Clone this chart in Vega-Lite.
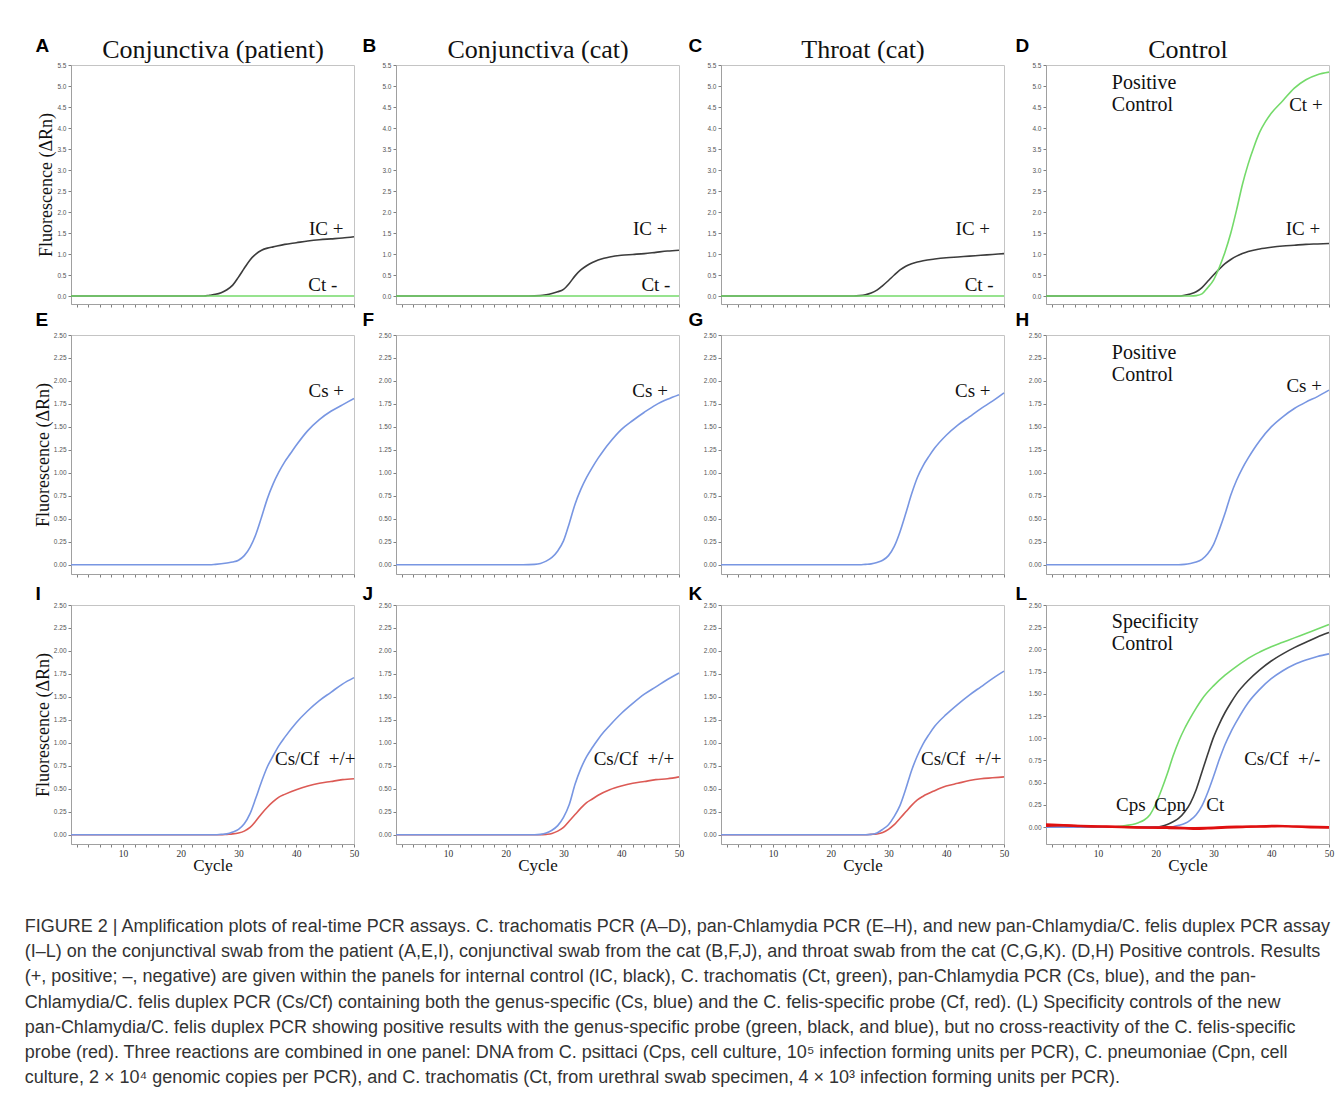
{
"$schema":"https://vega.github.io/schema/vega-lite/v6.json",
"background":"white",
"padding":{"left":24,"top":35,"right":0,"bottom":0},
"datasets":{
"curves":[
{"p":"A","s":"IC","c":1,"v":0},{"p":"A","s":"IC","c":24,"v":0},{"p":"A","s":"IC","c":25,"v":0.02},{"p":"A","s":"IC","c":26,"v":0.04},{"p":"A","s":"IC","c":27,"v":0.08},{"p":"A","s":"IC","c":28,"v":0.15},{"p":"A","s":"IC","c":29,"v":0.26},{"p":"A","s":"IC","c":30,"v":0.45},{"p":"A","s":"IC","c":31,"v":0.66},{"p":"A","s":"IC","c":32,"v":0.86},{"p":"A","s":"IC","c":33,"v":1.0},{"p":"A","s":"IC","c":34,"v":1.09},{"p":"A","s":"IC","c":35,"v":1.14},{"p":"A","s":"IC","c":36,"v":1.17},{"p":"A","s":"IC","c":38,"v":1.23},{"p":"A","s":"IC","c":40,"v":1.27},{"p":"A","s":"IC","c":42,"v":1.31},{"p":"A","s":"IC","c":44,"v":1.34},{"p":"A","s":"IC","c":46,"v":1.36},{"p":"A","s":"IC","c":48,"v":1.38},{"p":"A","s":"IC","c":50,"v":1.41},
{"p":"A","s":"Ct","c":1,"v":0},{"p":"A","s":"Ct","c":50,"v":0},
{"p":"B","s":"IC","c":1,"v":0},{"p":"B","s":"IC","c":24,"v":0},{"p":"B","s":"IC","c":26,"v":0.01},{"p":"B","s":"IC","c":27,"v":0.03},{"p":"B","s":"IC","c":28,"v":0.06},{"p":"B","s":"IC","c":29,"v":0.1},{"p":"B","s":"IC","c":30,"v":0.16},{"p":"B","s":"IC","c":31,"v":0.3},{"p":"B","s":"IC","c":32,"v":0.48},{"p":"B","s":"IC","c":33,"v":0.62},{"p":"B","s":"IC","c":34,"v":0.72},{"p":"B","s":"IC","c":35,"v":0.8},{"p":"B","s":"IC","c":36,"v":0.86},{"p":"B","s":"IC","c":37,"v":0.9},{"p":"B","s":"IC","c":38,"v":0.93},{"p":"B","s":"IC","c":40,"v":0.97},{"p":"B","s":"IC","c":42,"v":0.99},{"p":"B","s":"IC","c":44,"v":1.01},{"p":"B","s":"IC","c":46,"v":1.04},{"p":"B","s":"IC","c":48,"v":1.07},{"p":"B","s":"IC","c":50,"v":1.09},
{"p":"B","s":"Ct","c":1,"v":0},{"p":"B","s":"Ct","c":50,"v":0},
{"p":"C","s":"IC","c":1,"v":0},{"p":"C","s":"IC","c":24,"v":0},{"p":"C","s":"IC","c":25,"v":0.01},{"p":"C","s":"IC","c":26,"v":0.03},{"p":"C","s":"IC","c":27,"v":0.07},{"p":"C","s":"IC","c":28,"v":0.14},{"p":"C","s":"IC","c":29,"v":0.25},{"p":"C","s":"IC","c":30,"v":0.37},{"p":"C","s":"IC","c":31,"v":0.5},{"p":"C","s":"IC","c":32,"v":0.62},{"p":"C","s":"IC","c":33,"v":0.71},{"p":"C","s":"IC","c":34,"v":0.77},{"p":"C","s":"IC","c":35,"v":0.81},{"p":"C","s":"IC","c":36,"v":0.84},{"p":"C","s":"IC","c":38,"v":0.88},{"p":"C","s":"IC","c":40,"v":0.91},{"p":"C","s":"IC","c":42,"v":0.93},{"p":"C","s":"IC","c":44,"v":0.95},{"p":"C","s":"IC","c":46,"v":0.97},{"p":"C","s":"IC","c":48,"v":0.99},{"p":"C","s":"IC","c":50,"v":1.01},
{"p":"C","s":"Ct","c":1,"v":0},{"p":"C","s":"Ct","c":50,"v":0},
{"p":"D","s":"IC","c":1,"v":0},{"p":"D","s":"IC","c":24,"v":0},{"p":"D","s":"IC","c":25,"v":0.02},{"p":"D","s":"IC","c":26,"v":0.05},{"p":"D","s":"IC","c":27,"v":0.1},{"p":"D","s":"IC","c":28,"v":0.2},{"p":"D","s":"IC","c":29,"v":0.35},{"p":"D","s":"IC","c":30,"v":0.5},{"p":"D","s":"IC","c":31,"v":0.64},{"p":"D","s":"IC","c":32,"v":0.77},{"p":"D","s":"IC","c":33,"v":0.87},{"p":"D","s":"IC","c":34,"v":0.95},{"p":"D","s":"IC","c":35,"v":1.01},{"p":"D","s":"IC","c":36,"v":1.06},{"p":"D","s":"IC","c":38,"v":1.12},{"p":"D","s":"IC","c":40,"v":1.16},{"p":"D","s":"IC","c":42,"v":1.19},{"p":"D","s":"IC","c":44,"v":1.21},{"p":"D","s":"IC","c":46,"v":1.23},{"p":"D","s":"IC","c":48,"v":1.24},{"p":"D","s":"IC","c":50,"v":1.25},
{"p":"D","s":"Ct","c":1,"v":0},{"p":"D","s":"Ct","c":26,"v":0},{"p":"D","s":"Ct","c":27,"v":0.01},{"p":"D","s":"Ct","c":28,"v":0.05},{"p":"D","s":"Ct","c":29,"v":0.2},{"p":"D","s":"Ct","c":30,"v":0.38},{"p":"D","s":"Ct","c":31,"v":0.68},{"p":"D","s":"Ct","c":32,"v":1.05},{"p":"D","s":"Ct","c":33,"v":1.5},{"p":"D","s":"Ct","c":34,"v":2.05},{"p":"D","s":"Ct","c":35,"v":2.65},{"p":"D","s":"Ct","c":36,"v":3.14},{"p":"D","s":"Ct","c":37,"v":3.55},{"p":"D","s":"Ct","c":38,"v":3.9},{"p":"D","s":"Ct","c":39,"v":4.15},{"p":"D","s":"Ct","c":40,"v":4.35},{"p":"D","s":"Ct","c":42,"v":4.65},{"p":"D","s":"Ct","c":44,"v":4.95},{"p":"D","s":"Ct","c":46,"v":5.15},{"p":"D","s":"Ct","c":48,"v":5.27},{"p":"D","s":"Ct","c":50,"v":5.33},
{"p":"E","s":"Cs","c":1,"v":0},{"p":"E","s":"Cs","c":25,"v":0},{"p":"E","s":"Cs","c":26,"v":0.005},{"p":"E","s":"Cs","c":28,"v":0.02},{"p":"E","s":"Cs","c":29,"v":0.03},{"p":"E","s":"Cs","c":30,"v":0.05},{"p":"E","s":"Cs","c":31,"v":0.1},{"p":"E","s":"Cs","c":32,"v":0.19},{"p":"E","s":"Cs","c":33,"v":0.33},{"p":"E","s":"Cs","c":34,"v":0.52},{"p":"E","s":"Cs","c":35,"v":0.72},{"p":"E","s":"Cs","c":36,"v":0.88},{"p":"E","s":"Cs","c":37,"v":1.01},{"p":"E","s":"Cs","c":38,"v":1.12},{"p":"E","s":"Cs","c":39,"v":1.21},{"p":"E","s":"Cs","c":40,"v":1.3},{"p":"E","s":"Cs","c":42,"v":1.46},{"p":"E","s":"Cs","c":44,"v":1.58},{"p":"E","s":"Cs","c":46,"v":1.67},{"p":"E","s":"Cs","c":48,"v":1.74},{"p":"E","s":"Cs","c":50,"v":1.81},
{"p":"F","s":"Cs","c":1,"v":0},{"p":"F","s":"Cs","c":23,"v":0},{"p":"F","s":"Cs","c":25,"v":0.005},{"p":"F","s":"Cs","c":26,"v":0.015},{"p":"F","s":"Cs","c":27,"v":0.04},{"p":"F","s":"Cs","c":28,"v":0.08},{"p":"F","s":"Cs","c":29,"v":0.15},{"p":"F","s":"Cs","c":30,"v":0.26},{"p":"F","s":"Cs","c":31,"v":0.45},{"p":"F","s":"Cs","c":32,"v":0.66},{"p":"F","s":"Cs","c":33,"v":0.82},{"p":"F","s":"Cs","c":34,"v":0.95},{"p":"F","s":"Cs","c":35,"v":1.06},{"p":"F","s":"Cs","c":36,"v":1.16},{"p":"F","s":"Cs","c":37,"v":1.25},{"p":"F","s":"Cs","c":38,"v":1.33},{"p":"F","s":"Cs","c":40,"v":1.47},{"p":"F","s":"Cs","c":42,"v":1.57},{"p":"F","s":"Cs","c":44,"v":1.66},{"p":"F","s":"Cs","c":46,"v":1.74},{"p":"F","s":"Cs","c":48,"v":1.8},{"p":"F","s":"Cs","c":50,"v":1.85},
{"p":"G","s":"Cs","c":1,"v":0},{"p":"G","s":"Cs","c":25,"v":0},{"p":"G","s":"Cs","c":26,"v":0.005},{"p":"G","s":"Cs","c":27,"v":0.01},{"p":"G","s":"Cs","c":28,"v":0.025},{"p":"G","s":"Cs","c":29,"v":0.05},{"p":"G","s":"Cs","c":30,"v":0.1},{"p":"G","s":"Cs","c":31,"v":0.2},{"p":"G","s":"Cs","c":32,"v":0.36},{"p":"G","s":"Cs","c":33,"v":0.56},{"p":"G","s":"Cs","c":34,"v":0.77},{"p":"G","s":"Cs","c":35,"v":0.95},{"p":"G","s":"Cs","c":36,"v":1.08},{"p":"G","s":"Cs","c":37,"v":1.18},{"p":"G","s":"Cs","c":38,"v":1.27},{"p":"G","s":"Cs","c":40,"v":1.41},{"p":"G","s":"Cs","c":42,"v":1.52},{"p":"G","s":"Cs","c":44,"v":1.61},{"p":"G","s":"Cs","c":46,"v":1.7},{"p":"G","s":"Cs","c":48,"v":1.78},{"p":"G","s":"Cs","c":50,"v":1.87},
{"p":"H","s":"Cs","c":1,"v":0},{"p":"H","s":"Cs","c":24,"v":0},{"p":"H","s":"Cs","c":25,"v":0.005},{"p":"H","s":"Cs","c":26,"v":0.015},{"p":"H","s":"Cs","c":27,"v":0.03},{"p":"H","s":"Cs","c":28,"v":0.06},{"p":"H","s":"Cs","c":29,"v":0.12},{"p":"H","s":"Cs","c":30,"v":0.22},{"p":"H","s":"Cs","c":31,"v":0.38},{"p":"H","s":"Cs","c":32,"v":0.56},{"p":"H","s":"Cs","c":33,"v":0.76},{"p":"H","s":"Cs","c":34,"v":0.92},{"p":"H","s":"Cs","c":35,"v":1.05},{"p":"H","s":"Cs","c":36,"v":1.16},{"p":"H","s":"Cs","c":37,"v":1.26},{"p":"H","s":"Cs","c":38,"v":1.35},{"p":"H","s":"Cs","c":40,"v":1.5},{"p":"H","s":"Cs","c":42,"v":1.61},{"p":"H","s":"Cs","c":44,"v":1.7},{"p":"H","s":"Cs","c":46,"v":1.77},{"p":"H","s":"Cs","c":48,"v":1.83},{"p":"H","s":"Cs","c":50,"v":1.9},
{"p":"I","s":"Cf","c":1,"v":0},{"p":"I","s":"Cf","c":27,"v":0},{"p":"I","s":"Cf","c":28,"v":0.005},{"p":"I","s":"Cf","c":29,"v":0.01},{"p":"I","s":"Cf","c":30,"v":0.02},{"p":"I","s":"Cf","c":31,"v":0.04},{"p":"I","s":"Cf","c":32,"v":0.08},{"p":"I","s":"Cf","c":33,"v":0.15},{"p":"I","s":"Cf","c":34,"v":0.23},{"p":"I","s":"Cf","c":35,"v":0.3},{"p":"I","s":"Cf","c":36,"v":0.36},{"p":"I","s":"Cf","c":37,"v":0.41},{"p":"I","s":"Cf","c":38,"v":0.44},{"p":"I","s":"Cf","c":40,"v":0.49},{"p":"I","s":"Cf","c":42,"v":0.53},{"p":"I","s":"Cf","c":44,"v":0.56},{"p":"I","s":"Cf","c":46,"v":0.58},{"p":"I","s":"Cf","c":48,"v":0.6},{"p":"I","s":"Cf","c":50,"v":0.61},
{"p":"I","s":"Cs","c":1,"v":0},{"p":"I","s":"Cs","c":26,"v":0},{"p":"I","s":"Cs","c":27,"v":0.005},{"p":"I","s":"Cs","c":28,"v":0.01},{"p":"I","s":"Cs","c":29,"v":0.03},{"p":"I","s":"Cs","c":30,"v":0.06},{"p":"I","s":"Cs","c":31,"v":0.12},{"p":"I","s":"Cs","c":32,"v":0.23},{"p":"I","s":"Cs","c":33,"v":0.4},{"p":"I","s":"Cs","c":34,"v":0.58},{"p":"I","s":"Cs","c":35,"v":0.74},{"p":"I","s":"Cs","c":36,"v":0.86},{"p":"I","s":"Cs","c":37,"v":0.97},{"p":"I","s":"Cs","c":38,"v":1.06},{"p":"I","s":"Cs","c":40,"v":1.22},{"p":"I","s":"Cs","c":42,"v":1.35},{"p":"I","s":"Cs","c":44,"v":1.46},{"p":"I","s":"Cs","c":46,"v":1.55},{"p":"I","s":"Cs","c":48,"v":1.64},{"p":"I","s":"Cs","c":50,"v":1.71},
{"p":"J","s":"Cf","c":1,"v":0},{"p":"J","s":"Cf","c":26,"v":0},{"p":"J","s":"Cf","c":27,"v":0.005},{"p":"J","s":"Cf","c":28,"v":0.015},{"p":"J","s":"Cf","c":29,"v":0.04},{"p":"J","s":"Cf","c":30,"v":0.08},{"p":"J","s":"Cf","c":31,"v":0.15},{"p":"J","s":"Cf","c":32,"v":0.22},{"p":"J","s":"Cf","c":33,"v":0.29},{"p":"J","s":"Cf","c":34,"v":0.35},{"p":"J","s":"Cf","c":35,"v":0.39},{"p":"J","s":"Cf","c":36,"v":0.43},{"p":"J","s":"Cf","c":38,"v":0.49},{"p":"J","s":"Cf","c":40,"v":0.53},{"p":"J","s":"Cf","c":42,"v":0.56},{"p":"J","s":"Cf","c":44,"v":0.58},{"p":"J","s":"Cf","c":46,"v":0.6},{"p":"J","s":"Cf","c":48,"v":0.61},{"p":"J","s":"Cf","c":50,"v":0.63},
{"p":"J","s":"Cs","c":1,"v":0},{"p":"J","s":"Cs","c":25,"v":0},{"p":"J","s":"Cs","c":26,"v":0.005},{"p":"J","s":"Cs","c":27,"v":0.02},{"p":"J","s":"Cs","c":28,"v":0.05},{"p":"J","s":"Cs","c":29,"v":0.1},{"p":"J","s":"Cs","c":30,"v":0.19},{"p":"J","s":"Cs","c":31,"v":0.33},{"p":"J","s":"Cs","c":32,"v":0.55},{"p":"J","s":"Cs","c":33,"v":0.72},{"p":"J","s":"Cs","c":34,"v":0.85},{"p":"J","s":"Cs","c":35,"v":0.95},{"p":"J","s":"Cs","c":36,"v":1.04},{"p":"J","s":"Cs","c":37,"v":1.12},{"p":"J","s":"Cs","c":38,"v":1.19},{"p":"J","s":"Cs","c":40,"v":1.32},{"p":"J","s":"Cs","c":42,"v":1.43},{"p":"J","s":"Cs","c":44,"v":1.53},{"p":"J","s":"Cs","c":46,"v":1.61},{"p":"J","s":"Cs","c":48,"v":1.69},{"p":"J","s":"Cs","c":50,"v":1.76},
{"p":"K","s":"Cf","c":1,"v":0},{"p":"K","s":"Cf","c":26,"v":0},{"p":"K","s":"Cf","c":27,"v":0.005},{"p":"K","s":"Cf","c":28,"v":0.01},{"p":"K","s":"Cf","c":29,"v":0.025},{"p":"K","s":"Cf","c":30,"v":0.06},{"p":"K","s":"Cf","c":31,"v":0.11},{"p":"K","s":"Cf","c":32,"v":0.18},{"p":"K","s":"Cf","c":33,"v":0.25},{"p":"K","s":"Cf","c":34,"v":0.32},{"p":"K","s":"Cf","c":35,"v":0.38},{"p":"K","s":"Cf","c":36,"v":0.42},{"p":"K","s":"Cf","c":38,"v":0.48},{"p":"K","s":"Cf","c":40,"v":0.53},{"p":"K","s":"Cf","c":42,"v":0.56},{"p":"K","s":"Cf","c":44,"v":0.59},{"p":"K","s":"Cf","c":46,"v":0.61},{"p":"K","s":"Cf","c":48,"v":0.62},{"p":"K","s":"Cf","c":50,"v":0.63},
{"p":"K","s":"Cs","c":1,"v":0},{"p":"K","s":"Cs","c":26,"v":0},{"p":"K","s":"Cs","c":27,"v":0.005},{"p":"K","s":"Cs","c":28,"v":0.02},{"p":"K","s":"Cs","c":29,"v":0.06},{"p":"K","s":"Cs","c":30,"v":0.11},{"p":"K","s":"Cs","c":31,"v":0.2},{"p":"K","s":"Cs","c":32,"v":0.32},{"p":"K","s":"Cs","c":33,"v":0.5},{"p":"K","s":"Cs","c":34,"v":0.7},{"p":"K","s":"Cs","c":35,"v":0.86},{"p":"K","s":"Cs","c":36,"v":0.99},{"p":"K","s":"Cs","c":37,"v":1.09},{"p":"K","s":"Cs","c":38,"v":1.18},{"p":"K","s":"Cs","c":40,"v":1.31},{"p":"K","s":"Cs","c":42,"v":1.42},{"p":"K","s":"Cs","c":44,"v":1.52},{"p":"K","s":"Cs","c":46,"v":1.61},{"p":"K","s":"Cs","c":48,"v":1.7},{"p":"K","s":"Cs","c":50,"v":1.78},
{"p":"L","s":"Cps","c":1,"v":0},{"p":"L","s":"Cps","c":10,"v":0},{"p":"L","s":"Cps","c":13,"v":0.005},{"p":"L","s":"Cps","c":15,"v":0.02},{"p":"L","s":"Cps","c":16,"v":0.03},{"p":"L","s":"Cps","c":17,"v":0.05},{"p":"L","s":"Cps","c":18,"v":0.08},{"p":"L","s":"Cps","c":19,"v":0.14},{"p":"L","s":"Cps","c":20,"v":0.26},{"p":"L","s":"Cps","c":21,"v":0.42},{"p":"L","s":"Cps","c":22,"v":0.6},{"p":"L","s":"Cps","c":23,"v":0.8},{"p":"L","s":"Cps","c":24,"v":0.97},{"p":"L","s":"Cps","c":25,"v":1.11},{"p":"L","s":"Cps","c":26,"v":1.23},{"p":"L","s":"Cps","c":27,"v":1.34},{"p":"L","s":"Cps","c":28,"v":1.44},{"p":"L","s":"Cps","c":30,"v":1.59},{"p":"L","s":"Cps","c":32,"v":1.71},{"p":"L","s":"Cps","c":34,"v":1.81},{"p":"L","s":"Cps","c":36,"v":1.9},{"p":"L","s":"Cps","c":38,"v":1.97},{"p":"L","s":"Cps","c":40,"v":2.03},{"p":"L","s":"Cps","c":42,"v":2.08},{"p":"L","s":"Cps","c":44,"v":2.13},{"p":"L","s":"Cps","c":46,"v":2.18},{"p":"L","s":"Cps","c":48,"v":2.23},{"p":"L","s":"Cps","c":50,"v":2.28},
{"p":"L","s":"Cpn","c":1,"v":0},{"p":"L","s":"Cpn","c":20,"v":0},{"p":"L","s":"Cpn","c":21,"v":0.01},{"p":"L","s":"Cpn","c":22,"v":0.03},{"p":"L","s":"Cpn","c":23,"v":0.06},{"p":"L","s":"Cpn","c":24,"v":0.1},{"p":"L","s":"Cpn","c":25,"v":0.17},{"p":"L","s":"Cpn","c":26,"v":0.27},{"p":"L","s":"Cpn","c":27,"v":0.42},{"p":"L","s":"Cpn","c":28,"v":0.62},{"p":"L","s":"Cpn","c":29,"v":0.82},{"p":"L","s":"Cpn","c":30,"v":1.01},{"p":"L","s":"Cpn","c":31,"v":1.16},{"p":"L","s":"Cpn","c":32,"v":1.29},{"p":"L","s":"Cpn","c":33,"v":1.4},{"p":"L","s":"Cpn","c":34,"v":1.5},{"p":"L","s":"Cpn","c":36,"v":1.65},{"p":"L","s":"Cpn","c":38,"v":1.77},{"p":"L","s":"Cpn","c":40,"v":1.87},{"p":"L","s":"Cpn","c":42,"v":1.95},{"p":"L","s":"Cpn","c":44,"v":2.02},{"p":"L","s":"Cpn","c":46,"v":2.08},{"p":"L","s":"Cpn","c":48,"v":2.14},{"p":"L","s":"Cpn","c":50,"v":2.19},
{"p":"L","s":"CtL","c":1,"v":0},{"p":"L","s":"CtL","c":22,"v":0},{"p":"L","s":"CtL","c":23,"v":0.005},{"p":"L","s":"CtL","c":24,"v":0.02},{"p":"L","s":"CtL","c":25,"v":0.04},{"p":"L","s":"CtL","c":26,"v":0.08},{"p":"L","s":"CtL","c":27,"v":0.14},{"p":"L","s":"CtL","c":28,"v":0.24},{"p":"L","s":"CtL","c":29,"v":0.39},{"p":"L","s":"CtL","c":30,"v":0.57},{"p":"L","s":"CtL","c":31,"v":0.76},{"p":"L","s":"CtL","c":32,"v":0.93},{"p":"L","s":"CtL","c":33,"v":1.07},{"p":"L","s":"CtL","c":34,"v":1.19},{"p":"L","s":"CtL","c":36,"v":1.4},{"p":"L","s":"CtL","c":38,"v":1.55},{"p":"L","s":"CtL","c":40,"v":1.67},{"p":"L","s":"CtL","c":42,"v":1.76},{"p":"L","s":"CtL","c":44,"v":1.83},{"p":"L","s":"CtL","c":46,"v":1.88},{"p":"L","s":"CtL","c":48,"v":1.92},{"p":"L","s":"CtL","c":50,"v":1.95},
{"p":"L","s":"CfL","r":"a","c":1,"v":0.03},{"p":"L","s":"CfL","r":"a","c":3,"v":0.025},{"p":"L","s":"CfL","r":"a","c":5,"v":0.02},{"p":"L","s":"CfL","r":"a","c":7,"v":0.015},{"p":"L","s":"CfL","r":"a","c":10,"v":0.01},{"p":"L","s":"CfL","r":"a","c":13,"v":0.005},{"p":"L","s":"CfL","r":"a","c":16,"v":0},{"p":"L","s":"CfL","r":"a","c":19,"v":-0.005},{"p":"L","s":"CfL","r":"a","c":22,"v":-0.01},{"p":"L","s":"CfL","r":"a","c":25,"v":-0.015},{"p":"L","s":"CfL","r":"a","c":27,"v":-0.02},{"p":"L","s":"CfL","r":"a","c":29,"v":-0.015},{"p":"L","s":"CfL","r":"a","c":32,"v":-0.005},{"p":"L","s":"CfL","r":"a","c":35,"v":0},{"p":"L","s":"CfL","r":"a","c":38,"v":0.01},{"p":"L","s":"CfL","r":"a","c":41,"v":0.015},{"p":"L","s":"CfL","r":"a","c":43,"v":0.01},{"p":"L","s":"CfL","r":"a","c":46,"v":0},{"p":"L","s":"CfL","r":"a","c":50,"v":-0.005},
{"p":"L","s":"CfL","r":"b","c":1,"v":0.015},{"p":"L","s":"CfL","r":"b","c":4,"v":0.02},{"p":"L","s":"CfL","r":"b","c":7,"v":0.01},{"p":"L","s":"CfL","r":"b","c":10,"v":0.005},{"p":"L","s":"CfL","r":"b","c":14,"v":0},{"p":"L","s":"CfL","r":"b","c":18,"v":-0.005},{"p":"L","s":"CfL","r":"b","c":22,"v":0},{"p":"L","s":"CfL","r":"b","c":26,"v":-0.01},{"p":"L","s":"CfL","r":"b","c":30,"v":-0.005},{"p":"L","s":"CfL","r":"b","c":34,"v":0.005},{"p":"L","s":"CfL","r":"b","c":38,"v":0.005},{"p":"L","s":"CfL","r":"b","c":42,"v":0.01},{"p":"L","s":"CfL","r":"b","c":46,"v":0.005},{"p":"L","s":"CfL","r":"b","c":50,"v":0}
],
"labels":[
{"p":"A","k":"s","t":"IC +","c":45.2,"v":1.6},{"p":"A","k":"s","t":"Ct -","c":44.6,"v":0.26},
{"p":"B","k":"s","t":"IC +","c":45.0,"v":1.6},{"p":"B","k":"s","t":"Ct -","c":46.0,"v":0.26},
{"p":"C","k":"s","t":"IC +","c":44.6,"v":1.6},{"p":"C","k":"s","t":"Ct -","c":45.7,"v":0.26},
{"p":"D","k":"s","t":"Ct +","c":46.0,"v":4.55},{"p":"D","k":"s","t":"IC +","c":45.5,"v":1.6},{"p":"D","k":"b","t":"Positive","c":12.4,"v":5.07},{"p":"D","k":"b","t":"Control","c":12.4,"v":4.55},
{"p":"E","k":"s","t":"Cs +","c":45.2,"v":1.89},{"p":"F","k":"s","t":"Cs +","c":45.0,"v":1.89},{"p":"G","k":"s","t":"Cs +","c":44.6,"v":1.89},
{"p":"H","k":"s","t":"Cs +","c":45.7,"v":1.95},{"p":"H","k":"b","t":"Positive","c":12.4,"v":2.3},{"p":"H","k":"b","t":"Control","c":12.4,"v":2.07},
{"p":"I","k":"s","t":"Cs/Cf\u00a0 +/+","c":43.3,"v":0.83},{"p":"J","k":"s","t":"Cs/Cf\u00a0 +/+","c":42.2,"v":0.83},{"p":"K","k":"s","t":"Cs/Cf\u00a0 +/+","c":42.6,"v":0.83},
{"p":"L","k":"s","t":"Cs/Cf\u00a0 +/-","c":41.9,"v":0.77},{"p":"L","k":"s","t":"Cps","c":15.7,"v":0.25},{"p":"L","k":"s","t":"Cpn","c":22.5,"v":0.25},{"p":"L","k":"s","t":"Ct","c":30.3,"v":0.25},{"p":"L","k":"b","t":"Specificity","c":12.4,"v":2.31},{"p":"L","k":"b","t":"Control","c":12.4,"v":2.06}
]
},
"title":{"text":[
"FIGURE 2 | Amplification plots of real-time PCR assays. C. trachomatis PCR (A–D), pan-Chlamydia PCR (E–H), and new pan-Chlamydia/C. felis duplex PCR assay",
"(I–L) on the conjunctival swab from the patient (A,E,I), conjunctival swab from the cat (B,F,J), and throat swab from the cat (C,G,K). (D,H) Positive controls. Results",
"(+, positive; –, negative) are given within the panels for internal control (IC, black), C. trachomatis (Ct, green), pan-Chlamydia PCR (Cs, blue), and the pan-",
"Chlamydia/C. felis duplex PCR (Cs/Cf) containing both the genus-specific (Cs, blue) and the C. felis-specific probe (Cf, red). (L) Specificity controls of the new",
"pan-Chlamydia/C. felis duplex PCR showing positive results with the genus-specific probe (green, black, and blue), but no cross-reactivity of the C. felis-specific",
"probe (red). Three reactions are combined in one panel: DNA from C. psittaci (Cps, cell culture, 10⁵ infection forming units per PCR), C. pneumoniae (Cpn, cell",
"culture, 2 × 10⁴ genomic copies per PCR), and C. trachomatis (Ct, from urethral swab specimen, 4 × 10³ infection forming units per PCR)."],
"orient":"bottom","anchor":"start","frame":"bounds","font":"Liberation Sans","fontSize":18,"fontWeight":"normal","color":"#333","lineHeight":25.2,"offset":44,"dx":-9,"baseline":"top"},
"columns":4,
"spacing":{"row":31,"column":42},
"bounds":"flush",
"concat":[
{"width":283,"height":239,"resolve":{"axis":{"x":"independent","y":"independent"}},"layer":[
 {"data":{"name":"curves"},"transform":[{"filter":"datum.p==='A'"}],"mark":{"type":"line","interpolate":"monotone","strokeWidth":1.6},
  "encoding":{"x":{"field":"c","type":"quantitative","scale":{"domain":[1,50],"nice":false,"zero":false},"axis":{"values":[2,4,6,8,10,12,14,16,18,20,22,24,26,28,30,32,34,36,38,40,42,44,46,48,50],"labels":false,"title":null}},
   "y":{"field":"v","type":"quantitative","scale":{"domain":[-0.19,5.5],"nice":false,"zero":false},"axis":{"values":[0,0.5,1,1.5,2,2.5,3,3.5,4,4.5,5,5.5],"format":".1f","title":"Fluorescence (ΔRn)"}},
   "color":{"field":"s","type":"nominal","scale":{"domain":["IC","Ct","Cs","Cf","Cps","Cpn","CtL"],"range":["#3c3c3c","#74da6a","#7896e2","#dc5a55","#74da6a","#3c3c3c","#7896e2"]},"legend":null}}},
 {"data":{"name":"labels"},"transform":[{"filter":"datum.p==='A' && datum.k==='s'"}],"mark":{"type":"text","font":"Liberation Serif","fontSize":19,"color":"#111"},
  "encoding":{"x":{"field":"c","type":"quantitative","axis":{"orient":"top","labels":false,"ticks":false,"domain":false,"title":"Conjunctiva (patient)","titleX":141.5,"titleY":-8,"titleAlign":"center","titleBaseline":"alphabetic","titleFont":"Liberation Serif","titleFontSize":26,"titleColor":"#111"}},
   "y":{"field":"v","type":"quantitative","axis":{"orient":"right","labels":false,"ticks":false,"domain":false,"title":"A","titleX":-319,"titleY":-14,"titleAngle":0,"titleAlign":"left","titleBaseline":"alphabetic","titleFont":"Liberation Sans","titleFontWeight":"bold","titleFontSize":19,"titleColor":"#000"}},
   "text":{"field":"t"}}}
]},
{"width":283,"height":239,"resolve":{"axis":{"x":"independent","y":"independent"}},"layer":[
 {"data":{"name":"curves"},"transform":[{"filter":"datum.p==='B'"}],"mark":{"type":"line","interpolate":"monotone","strokeWidth":1.6},
  "encoding":{"x":{"field":"c","type":"quantitative","scale":{"domain":[1,50],"nice":false,"zero":false},"axis":{"values":[2,4,6,8,10,12,14,16,18,20,22,24,26,28,30,32,34,36,38,40,42,44,46,48,50],"labels":false,"title":null}},
   "y":{"field":"v","type":"quantitative","scale":{"domain":[-0.19,5.5],"nice":false,"zero":false},"axis":{"values":[0,0.5,1,1.5,2,2.5,3,3.5,4,4.5,5,5.5],"format":".1f","title":null}},
   "color":{"field":"s","type":"nominal","legend":null}}},
 {"data":{"name":"labels"},"transform":[{"filter":"datum.p==='B' && datum.k==='s'"}],"mark":{"type":"text","font":"Liberation Serif","fontSize":19,"color":"#111"},
  "encoding":{"x":{"field":"c","type":"quantitative","axis":{"orient":"top","labels":false,"ticks":false,"domain":false,"title":"Conjunctiva (cat)","titleX":141.5,"titleY":-8,"titleAlign":"center","titleBaseline":"alphabetic","titleFont":"Liberation Serif","titleFontSize":26,"titleColor":"#111"}},
   "y":{"field":"v","type":"quantitative","axis":{"orient":"right","labels":false,"ticks":false,"domain":false,"title":"B","titleX":-317,"titleY":-14,"titleAngle":0,"titleAlign":"left","titleBaseline":"alphabetic","titleFont":"Liberation Sans","titleFontWeight":"bold","titleFontSize":19,"titleColor":"#000"}},
   "text":{"field":"t"}}}
]},
{"width":283,"height":239,"resolve":{"axis":{"x":"independent","y":"independent"}},"layer":[
 {"data":{"name":"curves"},"transform":[{"filter":"datum.p==='C'"}],"mark":{"type":"line","interpolate":"monotone","strokeWidth":1.6},
  "encoding":{"x":{"field":"c","type":"quantitative","scale":{"domain":[1,50],"nice":false,"zero":false},"axis":{"values":[2,4,6,8,10,12,14,16,18,20,22,24,26,28,30,32,34,36,38,40,42,44,46,48,50],"labels":false,"title":null}},
   "y":{"field":"v","type":"quantitative","scale":{"domain":[-0.19,5.5],"nice":false,"zero":false},"axis":{"values":[0,0.5,1,1.5,2,2.5,3,3.5,4,4.5,5,5.5],"format":".1f","title":null}},
   "color":{"field":"s","type":"nominal","legend":null}}},
 {"data":{"name":"labels"},"transform":[{"filter":"datum.p==='C' && datum.k==='s'"}],"mark":{"type":"text","font":"Liberation Serif","fontSize":19,"color":"#111"},
  "encoding":{"x":{"field":"c","type":"quantitative","axis":{"orient":"top","labels":false,"ticks":false,"domain":false,"title":"Throat (cat)","titleX":141.5,"titleY":-8,"titleAlign":"center","titleBaseline":"alphabetic","titleFont":"Liberation Serif","titleFontSize":26,"titleColor":"#111"}},
   "y":{"field":"v","type":"quantitative","axis":{"orient":"right","labels":false,"ticks":false,"domain":false,"title":"C","titleX":-316,"titleY":-14,"titleAngle":0,"titleAlign":"left","titleBaseline":"alphabetic","titleFont":"Liberation Sans","titleFontWeight":"bold","titleFontSize":19,"titleColor":"#000"}},
   "text":{"field":"t"}}}
]},
{"width":283,"height":239,"resolve":{"axis":{"x":"independent","y":"independent"}},"layer":[
 {"data":{"name":"curves"},"transform":[{"filter":"datum.p==='D'"}],"mark":{"type":"line","interpolate":"monotone","strokeWidth":1.6},
  "encoding":{"x":{"field":"c","type":"quantitative","scale":{"domain":[1,50],"nice":false,"zero":false},"axis":{"values":[2,4,6,8,10,12,14,16,18,20,22,24,26,28,30,32,34,36,38,40,42,44,46,48,50],"labels":false,"title":null}},
   "y":{"field":"v","type":"quantitative","scale":{"domain":[-0.19,5.5],"nice":false,"zero":false},"axis":{"values":[0,0.5,1,1.5,2,2.5,3,3.5,4,4.5,5,5.5],"format":".1f","title":null}},
   "color":{"field":"s","type":"nominal","legend":null}}},
 {"data":{"name":"labels"},"transform":[{"filter":"datum.p==='D' && datum.k==='s'"}],"mark":{"type":"text","font":"Liberation Serif","fontSize":19,"color":"#111"},
  "encoding":{"x":{"field":"c","type":"quantitative","axis":{"orient":"top","labels":false,"ticks":false,"domain":false,"title":"Control","titleX":141.5,"titleY":-8,"titleAlign":"center","titleBaseline":"alphabetic","titleFont":"Liberation Serif","titleFontSize":26,"titleColor":"#111"}},
   "y":{"field":"v","type":"quantitative","axis":{"orient":"right","labels":false,"ticks":false,"domain":false,"title":"D","titleX":-314,"titleY":-14,"titleAngle":0,"titleAlign":"left","titleBaseline":"alphabetic","titleFont":"Liberation Sans","titleFontWeight":"bold","titleFontSize":19,"titleColor":"#000"}},
   "text":{"field":"t"}}},
 {"data":{"name":"labels"},"transform":[{"filter":"datum.p==='D' && datum.k==='b'"}],"mark":{"type":"text","font":"Liberation Serif","fontSize":20,"color":"#111","align":"left"},
  "encoding":{"x":{"field":"c","type":"quantitative","axis":null},"y":{"field":"v","type":"quantitative","axis":null},"text":{"field":"t"}}}
]},
{"width":283,"height":239,"resolve":{"axis":{"x":"independent","y":"independent"}},"layer":[
 {"data":{"name":"curves"},"transform":[{"filter":"datum.p==='E'"}],"mark":{"type":"line","interpolate":"monotone","strokeWidth":1.6},
  "encoding":{"x":{"field":"c","type":"quantitative","scale":{"domain":[1,50],"nice":false,"zero":false},"axis":{"values":[2,4,6,8,10,12,14,16,18,20,22,24,26,28,30,32,34,36,38,40,42,44,46,48,50],"labels":false,"title":null}},
   "y":{"field":"v","type":"quantitative","scale":{"domain":[-0.1,2.5],"nice":false,"zero":false},"axis":{"values":[0,0.25,0.5,0.75,1,1.25,1.5,1.75,2,2.25,2.5],"format":".2f","title":"Fluorescence (ΔRn)"}},
   "color":{"field":"s","type":"nominal","legend":null}}},
 {"data":{"name":"labels"},"transform":[{"filter":"datum.p==='E' && datum.k==='s'"}],"mark":{"type":"text","font":"Liberation Serif","fontSize":19,"color":"#111"},
  "encoding":{"x":{"field":"c","type":"quantitative","axis":null},
   "y":{"field":"v","type":"quantitative","axis":{"orient":"right","labels":false,"ticks":false,"domain":false,"title":"E","titleX":-319,"titleY":-10,"titleAngle":0,"titleAlign":"left","titleBaseline":"alphabetic","titleFont":"Liberation Sans","titleFontWeight":"bold","titleFontSize":19,"titleColor":"#000"}},
   "text":{"field":"t"}}}
]},
{"width":283,"height":239,"resolve":{"axis":{"x":"independent","y":"independent"}},"layer":[
 {"data":{"name":"curves"},"transform":[{"filter":"datum.p==='F'"}],"mark":{"type":"line","interpolate":"monotone","strokeWidth":1.6},
  "encoding":{"x":{"field":"c","type":"quantitative","scale":{"domain":[1,50],"nice":false,"zero":false},"axis":{"values":[2,4,6,8,10,12,14,16,18,20,22,24,26,28,30,32,34,36,38,40,42,44,46,48,50],"labels":false,"title":null}},
   "y":{"field":"v","type":"quantitative","scale":{"domain":[-0.1,2.5],"nice":false,"zero":false},"axis":{"values":[0,0.25,0.5,0.75,1,1.25,1.5,1.75,2,2.25,2.5],"format":".2f","title":null}},
   "color":{"field":"s","type":"nominal","legend":null}}},
 {"data":{"name":"labels"},"transform":[{"filter":"datum.p==='F' && datum.k==='s'"}],"mark":{"type":"text","font":"Liberation Serif","fontSize":19,"color":"#111"},
  "encoding":{"x":{"field":"c","type":"quantitative","axis":null},
   "y":{"field":"v","type":"quantitative","axis":{"orient":"right","labels":false,"ticks":false,"domain":false,"title":"F","titleX":-317,"titleY":-10,"titleAngle":0,"titleAlign":"left","titleBaseline":"alphabetic","titleFont":"Liberation Sans","titleFontWeight":"bold","titleFontSize":19,"titleColor":"#000"}},
   "text":{"field":"t"}}}
]},
{"width":283,"height":239,"resolve":{"axis":{"x":"independent","y":"independent"}},"layer":[
 {"data":{"name":"curves"},"transform":[{"filter":"datum.p==='G'"}],"mark":{"type":"line","interpolate":"monotone","strokeWidth":1.6},
  "encoding":{"x":{"field":"c","type":"quantitative","scale":{"domain":[1,50],"nice":false,"zero":false},"axis":{"values":[2,4,6,8,10,12,14,16,18,20,22,24,26,28,30,32,34,36,38,40,42,44,46,48,50],"labels":false,"title":null}},
   "y":{"field":"v","type":"quantitative","scale":{"domain":[-0.1,2.5],"nice":false,"zero":false},"axis":{"values":[0,0.25,0.5,0.75,1,1.25,1.5,1.75,2,2.25,2.5],"format":".2f","title":null}},
   "color":{"field":"s","type":"nominal","legend":null}}},
 {"data":{"name":"labels"},"transform":[{"filter":"datum.p==='G' && datum.k==='s'"}],"mark":{"type":"text","font":"Liberation Serif","fontSize":19,"color":"#111"},
  "encoding":{"x":{"field":"c","type":"quantitative","axis":null},
   "y":{"field":"v","type":"quantitative","axis":{"orient":"right","labels":false,"ticks":false,"domain":false,"title":"G","titleX":-316,"titleY":-10,"titleAngle":0,"titleAlign":"left","titleBaseline":"alphabetic","titleFont":"Liberation Sans","titleFontWeight":"bold","titleFontSize":19,"titleColor":"#000"}},
   "text":{"field":"t"}}}
]},
{"width":283,"height":239,"resolve":{"axis":{"x":"independent","y":"independent"}},"layer":[
 {"data":{"name":"curves"},"transform":[{"filter":"datum.p==='H'"}],"mark":{"type":"line","interpolate":"monotone","strokeWidth":1.6},
  "encoding":{"x":{"field":"c","type":"quantitative","scale":{"domain":[1,50],"nice":false,"zero":false},"axis":{"values":[2,4,6,8,10,12,14,16,18,20,22,24,26,28,30,32,34,36,38,40,42,44,46,48,50],"labels":false,"title":null}},
   "y":{"field":"v","type":"quantitative","scale":{"domain":[-0.1,2.5],"nice":false,"zero":false},"axis":{"values":[0,0.25,0.5,0.75,1,1.25,1.5,1.75,2,2.25,2.5],"format":".2f","title":null}},
   "color":{"field":"s","type":"nominal","legend":null}}},
 {"data":{"name":"labels"},"transform":[{"filter":"datum.p==='H' && datum.k==='s'"}],"mark":{"type":"text","font":"Liberation Serif","fontSize":19,"color":"#111"},
  "encoding":{"x":{"field":"c","type":"quantitative","axis":null},
   "y":{"field":"v","type":"quantitative","axis":{"orient":"right","labels":false,"ticks":false,"domain":false,"title":"H","titleX":-314,"titleY":-10,"titleAngle":0,"titleAlign":"left","titleBaseline":"alphabetic","titleFont":"Liberation Sans","titleFontWeight":"bold","titleFontSize":19,"titleColor":"#000"}},
   "text":{"field":"t"}}},
 {"data":{"name":"labels"},"transform":[{"filter":"datum.p==='H' && datum.k==='b'"}],"mark":{"type":"text","font":"Liberation Serif","fontSize":20,"color":"#111","align":"left"},
  "encoding":{"x":{"field":"c","type":"quantitative","axis":null},"y":{"field":"v","type":"quantitative","axis":null},"text":{"field":"t"}}}
]},
{"width":283,"height":239,"resolve":{"axis":{"x":"independent","y":"independent"}},"layer":[
 {"data":{"name":"curves"},"transform":[{"filter":"datum.p==='I'"}],"mark":{"type":"line","interpolate":"monotone","strokeWidth":1.6},
  "encoding":{"x":{"field":"c","type":"quantitative","scale":{"domain":[1,50],"nice":false,"zero":false},"axis":{"values":[2,4,6,8,10,12,14,16,18,20,22,24,26,28,30,32,34,36,38,40,42,44,46,48,50],"labelExpr":"datum.value % 10 === 0 ? datum.label : ''","title":"Cycle"}},
   "y":{"field":"v","type":"quantitative","scale":{"domain":[-0.1,2.5],"nice":false,"zero":false},"axis":{"values":[0,0.25,0.5,0.75,1,1.25,1.5,1.75,2,2.25,2.5],"format":".2f","title":"Fluorescence (ΔRn)"}},
   "color":{"field":"s","type":"nominal","legend":null}}},
 {"data":{"name":"labels"},"transform":[{"filter":"datum.p==='I' && datum.k==='s'"}],"mark":{"type":"text","font":"Liberation Serif","fontSize":19,"color":"#111"},
  "encoding":{"x":{"field":"c","type":"quantitative","axis":null},
   "y":{"field":"v","type":"quantitative","axis":{"orient":"right","labels":false,"ticks":false,"domain":false,"title":"I","titleX":-319,"titleY":-6,"titleAngle":0,"titleAlign":"left","titleBaseline":"alphabetic","titleFont":"Liberation Sans","titleFontWeight":"bold","titleFontSize":19,"titleColor":"#000"}},
   "text":{"field":"t"}}}
]},
{"width":283,"height":239,"resolve":{"axis":{"x":"independent","y":"independent"}},"layer":[
 {"data":{"name":"curves"},"transform":[{"filter":"datum.p==='J'"}],"mark":{"type":"line","interpolate":"monotone","strokeWidth":1.6},
  "encoding":{"x":{"field":"c","type":"quantitative","scale":{"domain":[1,50],"nice":false,"zero":false},"axis":{"values":[2,4,6,8,10,12,14,16,18,20,22,24,26,28,30,32,34,36,38,40,42,44,46,48,50],"labelExpr":"datum.value % 10 === 0 ? datum.label : ''","title":"Cycle"}},
   "y":{"field":"v","type":"quantitative","scale":{"domain":[-0.1,2.5],"nice":false,"zero":false},"axis":{"values":[0,0.25,0.5,0.75,1,1.25,1.5,1.75,2,2.25,2.5],"format":".2f","title":null}},
   "color":{"field":"s","type":"nominal","legend":null}}},
 {"data":{"name":"labels"},"transform":[{"filter":"datum.p==='J' && datum.k==='s'"}],"mark":{"type":"text","font":"Liberation Serif","fontSize":19,"color":"#111"},
  "encoding":{"x":{"field":"c","type":"quantitative","axis":null},
   "y":{"field":"v","type":"quantitative","axis":{"orient":"right","labels":false,"ticks":false,"domain":false,"title":"J","titleX":-317,"titleY":-6,"titleAngle":0,"titleAlign":"left","titleBaseline":"alphabetic","titleFont":"Liberation Sans","titleFontWeight":"bold","titleFontSize":19,"titleColor":"#000"}},
   "text":{"field":"t"}}}
]},
{"width":283,"height":239,"resolve":{"axis":{"x":"independent","y":"independent"}},"layer":[
 {"data":{"name":"curves"},"transform":[{"filter":"datum.p==='K'"}],"mark":{"type":"line","interpolate":"monotone","strokeWidth":1.6},
  "encoding":{"x":{"field":"c","type":"quantitative","scale":{"domain":[1,50],"nice":false,"zero":false},"axis":{"values":[2,4,6,8,10,12,14,16,18,20,22,24,26,28,30,32,34,36,38,40,42,44,46,48,50],"labelExpr":"datum.value % 10 === 0 ? datum.label : ''","title":"Cycle"}},
   "y":{"field":"v","type":"quantitative","scale":{"domain":[-0.1,2.5],"nice":false,"zero":false},"axis":{"values":[0,0.25,0.5,0.75,1,1.25,1.5,1.75,2,2.25,2.5],"format":".2f","title":null}},
   "color":{"field":"s","type":"nominal","legend":null}}},
 {"data":{"name":"labels"},"transform":[{"filter":"datum.p==='K' && datum.k==='s'"}],"mark":{"type":"text","font":"Liberation Serif","fontSize":19,"color":"#111"},
  "encoding":{"x":{"field":"c","type":"quantitative","axis":null},
   "y":{"field":"v","type":"quantitative","axis":{"orient":"right","labels":false,"ticks":false,"domain":false,"title":"K","titleX":-316,"titleY":-6,"titleAngle":0,"titleAlign":"left","titleBaseline":"alphabetic","titleFont":"Liberation Sans","titleFontWeight":"bold","titleFontSize":19,"titleColor":"#000"}},
   "text":{"field":"t"}}}
]},
{"width":283,"height":239,"resolve":{"axis":{"x":"independent","y":"independent"}},"layer":[
 {"data":{"name":"curves"},"transform":[{"filter":"datum.p==='L' && datum.s!=='CfL'"}],"mark":{"type":"line","interpolate":"monotone","strokeWidth":1.6},
  "encoding":{"x":{"field":"c","type":"quantitative","scale":{"domain":[1,50],"nice":false,"zero":false},"axis":{"values":[2,4,6,8,10,12,14,16,18,20,22,24,26,28,30,32,34,36,38,40,42,44,46,48,50],"labelExpr":"datum.value % 10 === 0 ? datum.label : ''","title":"Cycle"}},
   "y":{"field":"v","type":"quantitative","scale":{"domain":[-0.19,2.5],"nice":false,"zero":false},"axis":{"values":[0,0.25,0.5,0.75,1,1.25,1.5,1.75,2,2.25,2.5],"format":".2f","title":null}},
   "color":{"field":"s","type":"nominal","legend":null}}},
 {"data":{"name":"curves"},"transform":[{"filter":"datum.p==='L' && datum.s==='CfL'"}],"mark":{"type":"line","interpolate":"monotone","strokeWidth":2.2,"color":"#e01010"},
  "encoding":{"x":{"field":"c","type":"quantitative","axis":null},"y":{"field":"v","type":"quantitative","axis":null},"detail":{"field":"r","type":"nominal"}}},
 {"data":{"name":"labels"},"transform":[{"filter":"datum.p==='L' && datum.k==='s'"}],"mark":{"type":"text","font":"Liberation Serif","fontSize":19,"color":"#111"},
  "encoding":{"x":{"field":"c","type":"quantitative","axis":null},
   "y":{"field":"v","type":"quantitative","axis":{"orient":"right","labels":false,"ticks":false,"domain":false,"title":"L","titleX":-314,"titleY":-6,"titleAngle":0,"titleAlign":"left","titleBaseline":"alphabetic","titleFont":"Liberation Sans","titleFontWeight":"bold","titleFontSize":19,"titleColor":"#000"}},
   "text":{"field":"t"}}},
 {"data":{"name":"labels"},"transform":[{"filter":"datum.p==='L' && datum.k==='b'"}],"mark":{"type":"text","font":"Liberation Serif","fontSize":20,"color":"#111","align":"left"},
  "encoding":{"x":{"field":"c","type":"quantitative","axis":null},"y":{"field":"v","type":"quantitative","axis":null},"text":{"field":"t"}}}
]}
],
"config":{
 "view":{"stroke":"#c4c4c4","strokeWidth":1},
 "axis":{"grid":false,"domainColor":"#a0a0a0","tickColor":"#808080","tickSize":3,"labelFont":"Liberation Sans","labelFontSize":6.5,"labelColor":"#555","labelPadding":2,"labelOverlap":false,"labelFlush":false,"titleFont":"Liberation Serif","titleFontWeight":"normal","titleColor":"#111","titleFontSize":18},
 "axisX":{"labelFont":"Liberation Serif","labelFontSize":9.5,"labelColor":"#333","labelPadding":1,"titleFontSize":17,"titlePadding":0},
 "axisY":{"titlePadding":1}
}
}
